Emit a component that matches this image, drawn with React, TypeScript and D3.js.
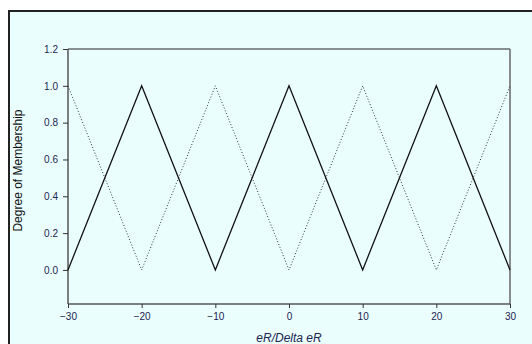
import { useEffect, useRef } from "react";
import * as d3 from "d3";

// membership functions sampled at the breakpoints
const xVals = [-30, -20, -10, 0, 10, 20, 30];
const solidVals = [0, 1, 0, 1, 0, 1, 0];
const dottedVals = [1, 0, 1, 0, 1, 0, 1];
const xTicks = [-30, -20, -10, 0, 10, 20, 30];
const yTicks = [0, 0.2, 0.4, 0.6, 0.8, 1.0, 1.2];

export default function App() {
  const svgRef = useRef<SVGSVGElement | null>(null);

  useEffect(() => {
    const width = 532;
    const height = 344;
    const margin = { top: 49, right: 22, bottom: 40, left: 68 };
    const innerW = width - margin.left - margin.right;
    const innerH = height - margin.top - margin.bottom;

    const svg = d3.select(svgRef.current);
    svg.selectAll("*").remove();
    svg.attr("width", width).attr("height", height);

    // page frame
    svg.append("rect")
      .attr("x", 9).attr("y", 11)
      .attr("width", 540).attr("height", 350)
      .attr("fill", "#eafefe")
      .attr("stroke", "#222").attr("stroke-width", 2);

    const g = svg.append("g")
      .attr("transform", `translate(${margin.left},${margin.top})`);

    const x = d3.scaleLinear().domain([-30, 30]).range([0, innerW]);
    const y = d3.scaleLinear().domain([-0.185, 1.2]).range([innerH, 0]);

    // frame: top black, right grey
    g.append("line").attr("x1", 0).attr("x2", innerW).attr("y1", 0).attr("y2", 0)
      .attr("stroke", "#222").attr("stroke-width", 1.2);
    g.append("line").attr("x1", innerW).attr("x2", innerW).attr("y1", 0).attr("y2", innerH)
      .attr("stroke", "#666").attr("stroke-width", 1.5);

    const yAxis = g.append("g")
      .call(d3.axisLeft(y).tickValues(yTicks).tickFormat(d3.format(".1f")).tickSize(5).tickPadding(5));
    const xAxis = g.append("g")
      .attr("transform", `translate(0,${innerH})`)
      .call(d3.axisBottom(x).tickValues(xTicks).tickFormat(d3.format("d")).tickSize(4).tickPadding(5));

    [yAxis, xAxis].forEach((a) => {
      a.select(".domain").attr("stroke", "#555").attr("stroke-width", 1.5);
      a.selectAll(".tick line").attr("stroke", "#333");
      a.selectAll(".tick text")
        .attr("fill", "#1c2450")
        .attr("font-family", "Arial, 'Liberation Sans', sans-serif")
        .attr("font-size", "10px");
    });
    // replace the d3 outer ticks on the domain path with a straight line
    yAxis.select(".domain").attr("d", `M0,0V${innerH}`);
    xAxis.select(".domain").attr("d", `M0,0H${innerW}`);

    const line = d3.line<number>()
      .x((_, i) => x(xVals[i]))
      .y((d) => y(d));

    g.append("path")
      .datum(dottedVals)
      .attr("d", line)
      .attr("fill", "none")
      .attr("stroke", "#333")
      .attr("stroke-width", 1)
      .attr("stroke-dasharray", "1,2");

    g.append("path")
      .datum(solidVals)
      .attr("d", line)
      .attr("fill", "none")
      .attr("stroke", "#111")
      .attr("stroke-width", 1.3);

    // axis titles
    g.append("text")
      .attr("transform", "rotate(-90)")
      .attr("x", -y(0.54)).attr("y", -46)
      .attr("text-anchor", "middle")
      .attr("font-family", "Arial, 'Liberation Sans', sans-serif")
      .attr("font-size", "12px")
      .attr("fill", "#111")
      .text("Degree of Membership");
    g.append("text")
      .attr("x", innerW / 2).attr("y", innerH + 38)
      .attr("text-anchor", "middle")
      .attr("font-family", "Arial, 'Liberation Sans', sans-serif")
      .attr("font-size", "12px")
      .attr("font-style", "italic")
      .attr("fill", "#1c2450")
      .text("eR/Delta eR");
  }, []);

  return (
    <div style={{ position: "fixed", left: 0, top: 0 }}>
      <svg ref={svgRef} style={{ display: "block" }}></svg>
    </div>
  );
}
